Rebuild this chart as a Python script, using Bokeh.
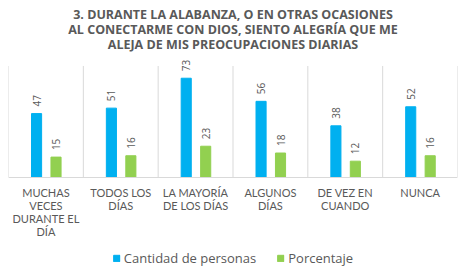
import numpy as np
from bokeh.plotting import figure
from bokeh.models import ColumnDataSource, Range1d, Legend, LegendItem, Span
from bokeh.core.properties import value
from bokeh.embed import file_html
from bokeh.resources import INLINE

categories = ["MUCHAS VECES DURANTE EL DÍA", "TODOS LOS DÍAS", "LA MAYORÍA DE LOS DÍAS",
              "ALGUNOS DÍAS", "DE VEZ EN CUANDO", "NUNCA"]
wrapped = ["MUCHAS\nVECES\nDURANTE EL\nDÍA", "TODOS LOS\nDÍAS", "LA MAYORÍA\nDE LOS DÍAS",
           "ALGUNOS\nDÍAS", "DE VEZ EN\nCUANDO", "NUNCA"]
cantidad = [47, 51, 73, 56, 38, 52]
porcentaje = [15, 16, 23, 18, 12, 16]
title_lines = ["3. DURANTE LA ALABANZA, O EN OTRAS OCASIONES",
               "AL CONECTARME CON DIOS, SIENTO ALEGRÍA QUE ME",
               "ALEJA DE MIS PREOCUPACIONES DIARIAS"]

BLUE = "#00B0F0"
GREEN = "#92D050"
GREY = "#595959"
GRID = "#D9D9D9"
FONT = "Open Sans"

# layout (pixels): baseline row, scale, title rows
H = 273
BASE_PX = 177
PX_PER_UNIT = 1.36
TITLE_PX = [14, 29, 44]
GRID_TOP = 82

YMAX = BASE_PX / PX_PER_UNIT
YMIN = -(H - BASE_PX) / PX_PER_UNIT

n = len(categories)
idx = np.arange(n)
src_a = ColumnDataSource(dict(x=idx + 0.5 - 0.125, y=cantidad, lab=[str(v) for v in cantidad]))
src_b = ColumnDataSource(dict(x=idx + 0.5 + 0.135, y=porcentaje, lab=[str(v) for v in porcentaje]))
src_c = ColumnDataSource(dict(x=idx + 0.5, y=np.zeros(n), lab=wrapped))
src_g = ColumnDataSource(dict(x=np.arange(n + 1), y0=np.zeros(n + 1), y1=np.full(n + 1, GRID_TOP)))
src_t = ColumnDataSource(dict(x=np.full(3, n / 2), y=[(BASE_PX - t) / PX_PER_UNIT for t in TITLE_PX],
                              lab=title_lines))

p = figure(width=462, height=H, output_backend="svg", toolbar_location=None,
           x_range=Range1d(0, n), y_range=Range1d(YMIN, YMAX),
           min_border_left=8, min_border_right=5, min_border_top=0, min_border_bottom=0)
p.outline_line_color = None
p.background_fill_color = "white"
p.border_fill_color = "white"
p.xaxis.visible = False
p.yaxis.visible = False
p.xgrid.visible = False
p.ygrid.visible = False

# title
p.text(x="x", y="y", text="lab", source=src_t, text_align="center", text_baseline="middle",
       text_font=value(FONT), text_font_size="12.5px", text_font_style="bold", text_color=GREY)

# vertical separators and baseline
p.segment(x0="x", x1="x", y0="y0", y1="y1", source=src_g, line_color=GRID, line_width=1)
p.add_layout(Span(location=0, dimension="width", line_color=GRID, line_width=1))

r1 = p.vbar(x="x", top="y", width=0.135, source=src_a, color=BLUE)
r2 = p.vbar(x="x", top="y", width=0.135, source=src_b, color=GREEN)

for s in (src_a, src_b):
    p.text(x="x", y="y", text="lab", source=s, angle=np.pi / 2, text_align="left",
           text_baseline="middle", y_offset=-7, x_offset=0, text_font=value(FONT),
           text_font_size="10px", text_color=GREY)

p.text(x="x", y="y", text="lab", source=src_c, text_align="center", text_baseline="top",
       y_offset=8, text_font=value("Lato"), text_font_size="11px", text_color=GREY,
       text_line_height=1.0)

legend = Legend(items=[LegendItem(label="Cantidad de personas", renderers=[r1]),
                       LegendItem(label="Porcentaje", renderers=[r2])],
                orientation="horizontal", location="bottom_center",
                label_text_font=FONT, label_text_font_size="13px", label_text_color=GREY,
                glyph_width=8, glyph_height=8, spacing=20, label_standoff=4,
                border_line_color=None, background_fill_alpha=0, padding=2, margin=6)
p.add_layout(legend)

open("out.html", "w").write(file_html(p, INLINE))
